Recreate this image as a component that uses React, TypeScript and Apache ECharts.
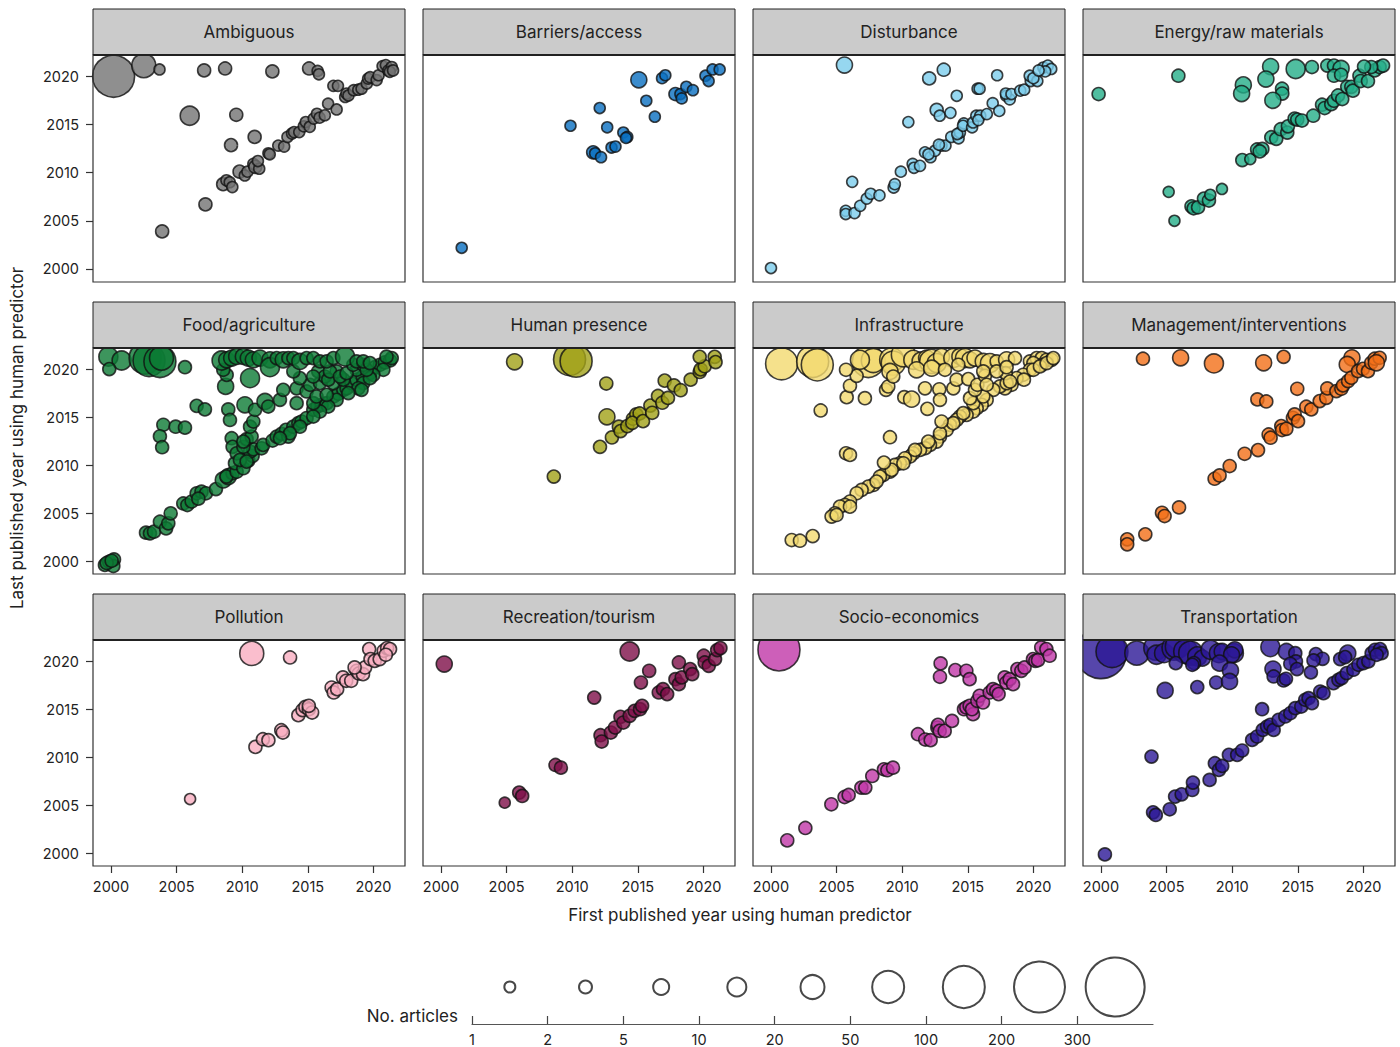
import React, { useEffect, useRef } from "react";
import * as echarts from "echarts";

// Each point: [first published year, last published year, number of articles]
type Pt = [number, number, number];

const ambiguous: Pt[] = [
  [2000.2, 2020.0, 150], [2002.5, 2021.1, 30], [2003.7, 2020.7, 1], [2007.1, 2020.6, 3], [2008.7, 2020.8, 3],
  [2012.3, 2020.5, 3], [2015.1, 2020.8, 2], [2015.75, 2020.55, 1], [2015.85, 2020.2, 1], [2006.0, 2015.9, 10],
  [2009.55, 2016.0, 2], [2009.15, 2012.85, 2], [2010.95, 2013.7, 2], [2007.2, 2006.7, 2], [2003.9, 2003.9, 2],
  [2008.55, 2008.8, 2], [2008.8, 2009.2, 1], [2009.05, 2009.0, 1], [2009.25, 2008.5, 1], [2009.8, 2010.1, 2],
  [2010.2, 2009.7, 1], [2010.4, 2010.1, 1], [2010.85, 2010.9, 1], [2011.0, 2010.6, 2], [2011.3, 2010.4, 1],
  [2011.2, 2011.2, 1], [2012.0, 2012.0, 1], [2012.1, 2011.9, 1], [2012.75, 2012.8, 1], [2013.2, 2012.7, 1],
  [2013.45, 2013.7, 1], [2013.8, 2014.05, 1], [2013.95, 2014.2, 1], [2014.35, 2014.2, 1], [2014.7, 2014.8, 1],
  [2014.85, 2015.25, 1], [2015.15, 2014.75, 1], [2015.45, 2015.6, 1], [2015.7, 2016.1, 1], [2015.9, 2015.7, 1],
  [2016.3, 2015.95, 1], [2016.55, 2017.15, 1], [2017.2, 2016.55, 1], [2016.95, 2019.0, 1], [2017.3, 2019.0, 1],
  [2017.85, 2017.85, 1], [2017.95, 2018.2, 1], [2018.1, 2018.0, 1], [2018.5, 2018.55, 1], [2018.85, 2018.6, 1],
  [2019.1, 2018.7, 1], [2019.5, 2019.25, 1], [2019.6, 2019.75, 1], [2019.75, 2019.9, 1], [2020.25, 2019.6, 1],
  [2020.4, 2020.1, 1], [2020.7, 2021.05, 1], [2020.95, 2021.15, 1], [2021.15, 2020.6, 1], [2021.4, 2020.95, 1],
  [2021.25, 2020.45, 1], [2021.5, 2020.6, 1],
];

const barriers: Pt[] = [
  [2001.58, 2002.2, 1], [2009.87, 2014.86, 1], [2012.1, 2016.7, 1], [2012.67, 2014.7, 1], [2011.6, 2012.1, 2],
  [2011.75, 2012.0, 1], [2012.2, 2011.6, 1], [2013.0, 2012.6, 1], [2013.3, 2012.7, 1], [2013.9, 2014.16, 1],
  [2014.2, 2013.7, 1], [2014.1, 2013.6, 1], [2015.08, 2019.63, 5], [2015.65, 2017.45, 1], [2016.3, 2015.8, 1],
  [2016.85, 2019.8, 1], [2017.1, 2020.1, 1], [2017.87, 2018.15, 2], [2018.25, 2018.15, 1], [2018.35, 2017.7, 1],
  [2018.7, 2018.9, 1], [2019.2, 2018.55, 1], [2020.16, 2020.05, 1], [2020.4, 2019.5, 1], [2020.7, 2020.7, 1],
  [2021.24, 2020.7, 1],
];

const disturbance: Pt[] = [
  [2000.0, 2000.1, 1], [2005.6, 2021.16, 5], [2012.06, 2019.77, 3], [2013.17, 2020.67, 3], [2017.24, 2020.1, 1],
  [2015.75, 2018.7, 1], [2015.9, 2018.7, 1], [2014.16, 2017.97, 1], [2012.63, 2016.5, 3], [2012.86, 2015.9, 1],
  [2013.68, 2016.2, 1], [2010.47, 2015.24, 1], [2006.19, 2009.04, 1],
  [2005.7, 2006.03, 1], [2005.7, 2005.7, 1], [2006.37, 2005.8, 1], [2006.8, 2006.55, 1], [2007.3, 2007.3, 1],
  [2007.6, 2007.8, 1], [2008.27, 2007.64, 1], [2009.35, 2008.45, 1], [2009.44, 2008.8, 1], [2009.9, 2010.1, 1],
  [2010.8, 2010.9, 1], [2010.9, 2010.5, 1], [2011.36, 2010.7, 1], [2011.74, 2012.1, 1], [2012.16, 2011.6, 1],
  [2012.5, 2012.26, 1], [2012.0, 2011.9, 1], [2013.0, 2012.8, 1], [2013.3, 2012.8, 1], [2012.8, 2012.9, 1],
  [2013.74, 2013.7, 1], [2014.3, 2013.56, 1], [2014.4, 2014.16, 1], [2014.2, 2014.0, 1], [2014.7, 2015.1, 1],
  [2014.64, 2014.86, 1], [2015.33, 2014.7, 1], [2015.4, 2015.2, 1], [2015.65, 2015.9, 1], [2015.95, 2015.9, 1],
  [2015.8, 2015.45, 1], [2016.45, 2016.07, 1], [2016.9, 2017.2, 1], [2017.4, 2016.4, 1], [2017.93, 2017.97, 1],
  [2018.2, 2017.6, 1], [2017.9, 2018.2, 1], [2018.33, 2018.15, 1], [2019.0, 2018.5, 1], [2019.3, 2018.6, 1],
  [2019.8, 2019.5, 1], [2019.72, 2020.05, 1], [2020.3, 2019.5, 1], [2020.0, 2019.8, 1], [2020.76, 2020.9, 1],
  [2021.1, 2021.1, 1], [2021.36, 2020.75, 1], [2020.9, 2020.5, 1], [2020.4, 2020.6, 1],
];

const energy: Pt[] = [
  [1999.82, 2018.15, 2], [2005.9, 2020.05, 3], [2005.16, 2008.0, 1], [2005.6, 2005.0, 1],
  [2006.9, 2006.5, 2], [2007.06, 2006.3, 2], [2007.4, 2006.4, 2], [2007.85, 2007.3, 2], [2008.23, 2007.1, 2],
  [2008.33, 2007.7, 1], [2009.22, 2008.3, 1], [2010.77, 2011.3, 2], [2011.38, 2011.4, 1], [2011.9, 2012.4, 2],
  [2012.3, 2012.46, 2], [2012.1, 2012.2, 2], [2012.98, 2013.67, 2], [2013.36, 2013.5, 2], [2013.7, 2014.5, 2],
  [2014.2, 2014.15, 2], [2014.25, 2014.8, 2], [2014.76, 2015.6, 3], [2014.96, 2015.5, 3], [2015.32, 2015.4, 3],
  [2016.18, 2015.9, 2], [2016.85, 2017.04, 2], [2017.05, 2016.7, 2], [2017.55, 2017.1, 2], [2017.76, 2017.45, 2],
  [2018.07, 2018.0, 2], [2018.39, 2017.63, 2], [2018.77, 2018.9, 3], [2019.08, 2018.9, 3], [2019.2, 2018.5, 2],
  [2019.7, 2020.05, 2], [2019.8, 2019.5, 2], [2020.35, 2019.5, 2], [2020.86, 2020.6, 2], [2021.24, 2020.95, 2],
  [2021.5, 2021.1, 2], [2020.6, 2020.95, 2],
  [2012.93, 2021.0, 5], [2012.57, 2019.7, 5], [2010.85, 2019.1, 5], [2010.72, 2018.2, 5], [2013.8, 2018.7, 2],
  [2013.82, 2018.2, 2], [2013.1, 2017.5, 5], [2014.84, 2020.75, 10], [2016.08, 2020.95, 2], [2017.25, 2021.1, 2],
  [2017.76, 2021.1, 2], [2018.3, 2020.8, 5], [2017.76, 2020.05, 2], [2018.3, 2020.15, 2], [2020.05, 2021.0, 2],
];

const food: Pt[] = [
  [1999.54, 1999.6, 3], [1999.87, 1999.93, 3], [2000.23, 2000.17, 3], [2000.18, 1999.48, 3], [1999.67, 1999.8, 3],
  [2000.05, 2000.03, 3], [2002.67, 2002.96, 3], [2002.97, 2002.89, 3], [2003.28, 2003.06, 3], [2003.73, 2004.1, 3],
  [2004.2, 2003.4, 3], [2004.37, 2003.93, 3], [2004.55, 2004.97, 3], [2005.51, 2006.0, 3], [2005.82, 2005.84, 3],
  [2006.15, 2006.2, 3], [2006.53, 2007.06, 3], [2006.9, 2007.23, 3], [2007.24, 2007.06, 3], [2006.66, 2006.5, 3],
  [2008.0, 2007.5, 3], [2008.56, 2008.45, 5], [2008.94, 2008.8, 5], [2009.27, 2009.15, 3], [2008.8, 2008.8, 3],
  [2009.58, 2009.3, 3], [2009.45, 2010.2, 3], [2010.09, 2009.67, 3], [2010.47, 2010.47, 3], [2010.8, 2010.96, 3],
  [2010.6, 2011.4, 3], [2010.85, 2011.65, 3], [2011.48, 2011.75, 3], [2011.6, 2012.1, 3],
  [2012.32, 2012.56, 3], [2012.63, 2012.97, 3], [2013.0, 2013.25, 3], [2013.34, 2013.67, 3], [2013.52, 2012.97, 3],
  [2013.9, 2014.0, 3], [2014.28, 2014.37, 3], [2014.53, 2014.54, 3], [2014.91, 2014.9, 3], [2015.42, 2015.76, 3],
  [2015.73, 2016.1, 3], [2016.06, 2016.28, 3], [2016.44, 2016.45, 3], [2016.95, 2017.15, 3], [2017.33, 2017.43, 3],
  [2017.71, 2017.84, 3], [2017.96, 2018.0, 3], [2018.34, 2018.54, 3], [2018.72, 2018.9, 3], [2019.18, 2019.23, 3],
  [2019.74, 2019.58, 3], [2020.12, 2020.2, 3], [2020.5, 2020.45, 3], [2020.88, 2020.7, 3], [2021.27, 2020.9, 3],
  [2020.76, 2019.93, 3], [2020.0, 2019.4, 3], [2019.23, 2018.54, 3], [2018.85, 2018.0, 3], [2018.09, 2017.5, 3],
  [2017.2, 2016.8, 3], [2016.56, 2016.1, 3], [2015.93, 2015.58, 3], [2015.42, 2015.06, 3], [2014.4, 2014.0, 3],
  [2013.64, 2013.32, 3], [2012.88, 2012.8, 3], [2021.4, 2021.15, 3], [2021.0, 2021.3, 3],
  [2006.53, 2016.17, 3], [2007.16, 2015.8, 3], [2003.99, 2014.2, 3], [2004.93, 2014.0, 3], [2005.64, 2013.9, 3],
  [2003.73, 2013.0, 3], [2003.9, 2011.86, 3], [2008.94, 2015.8, 3], [2009.07, 2014.7, 3], [2009.2, 2012.8, 3],
  [2009.27, 2011.9, 3], [2009.58, 2011.23, 3], [2010.09, 2011.9, 3], [2010.34, 2012.7, 3], [2010.72, 2012.97, 3],
  [2010.6, 2014.0, 3], [2010.85, 2014.54, 3], [2010.09, 2012.45, 3], [2009.83, 2010.54, 3], [2010.34, 2010.36, 3],
  [2010.21, 2016.28, 5], [2010.98, 2015.76, 3], [2011.74, 2016.63, 5], [2011.99, 2016.1, 3], [2012.88, 2016.8, 3],
  [2013.13, 2017.84, 3], [2014.15, 2016.45, 3], [2014.15, 2018.0, 3], [2014.91, 2017.67, 3], [2015.42, 2016.45, 3],
  [2015.67, 2017.15, 3], [2015.17, 2018.37, 3], [2016.44, 2017.32, 3], [2016.95, 2018.54, 3], [2017.71, 2018.9, 3],
  [2015.93, 2018.54, 3], [2017.2, 2019.76, 3], [2018.72, 2019.93, 3], [2019.74, 2019.06, 3], [2019.1, 2017.84, 3],
  [2008.74, 2018.2, 5], [2010.6, 2019.06, 10], [2008.82, 2019.4, 3], [2008.56, 2019.93, 3],
  [2015.8, 2019.76, 3], [2016.3, 2019.23, 3], [2016.56, 2018.9, 3], [2014.4, 2019.06, 3], [2015.42, 2019.23, 3],
  [2013.9, 2019.76, 3], [2016.69, 2019.76, 3], [2017.45, 2019.23, 3], [2017.96, 2019.58, 3], [2018.47, 2020.45, 3],
  [2019.23, 2020.45, 3], [2019.49, 2019.93, 3],
  [1999.8, 2021.3, 10], [2000.81, 2020.9, 10], [1999.87, 2020.0, 3], [2002.6, 2021.15, 50], [2002.9, 2020.9, 70],
  [2003.73, 2020.8, 70], [2003.85, 2021.15, 30], [2005.64, 2020.2, 3],
  [2008.43, 2020.9, 10], [2008.82, 2020.97, 5], [2009.2, 2021.15, 5], [2009.58, 2021.32, 5], [2010.09, 2021.32, 5],
  [2010.47, 2021.15, 5], [2010.85, 2020.97, 5], [2011.36, 2021.15, 5], [2012.12, 2020.97, 5], [2012.12, 2020.2, 10],
  [2012.63, 2021.15, 3], [2013.13, 2020.97, 5], [2013.52, 2021.15, 3], [2013.9, 2021.15, 3], [2014.4, 2020.8, 5],
  [2014.91, 2021.15, 3], [2015.42, 2021.15, 3], [2015.93, 2020.8, 3], [2016.44, 2020.8, 3], [2016.95, 2021.15, 3],
  [2017.84, 2021.32, 10], [2018.72, 2020.8, 3], [2019.23, 2020.8, 3], [2019.74, 2020.63, 3],
];

const humanPresence: Pt[] = [
  [2005.61, 2020.76, 5], [2009.8, 2021.0, 70], [2010.3, 2020.83, 50], [2012.6, 2018.5, 3], [2012.65, 2015.03, 5],
  [2008.6, 2008.8, 2], [2012.12, 2011.9, 2], [2013.03, 2012.88, 3], [2013.56, 2014.0, 3], [2013.69, 2013.54, 3],
  [2014.2, 2014.06, 3], [2014.63, 2014.83, 3], [2014.89, 2015.28, 3], [2015.14, 2015.38, 3], [2014.58, 2014.4, 3],
  [2015.4, 2014.58, 3], [2015.96, 2016.2, 3], [2016.1, 2015.45, 3], [2016.54, 2017.2, 3], [2016.87, 2016.5, 3],
  [2017.3, 2017.0, 3], [2017.05, 2018.8, 3], [2017.76, 2018.3, 3], [2018.27, 2017.8, 3], [2019.03, 2018.9, 3],
  [2019.72, 2019.7, 3], [2019.79, 2019.97, 3], [2020.1, 2020.3, 3], [2019.72, 2021.28, 3], [2020.86, 2021.28, 3],
  [2020.93, 2020.73, 3],
];

const infrastructure: Pt[] = [
  [2000.81, 2020.56, 70], [2003.18, 2020.8, 70], [2003.53, 2020.45, 50], [2007.42, 2020.8, 70], [2007.8, 2020.9, 30],
  [2006.78, 2020.97, 10], [2009.2, 2020.97, 20], [2009.32, 2020.63, 20], [2010.09, 2021.5, 20], [2010.85, 2020.97, 10],
  [2011.48, 2020.8, 10], [2011.86, 2021.15, 5], [2012.25, 2020.8, 20], [2012.63, 2020.63, 10], [2013.0, 2021.32, 5],
  [2013.9, 2021.15, 10], [2014.4, 2021.32, 5], [2014.79, 2021.15, 10], [2015.17, 2020.97, 5], [2015.55, 2021.15, 5],
  [2016.18, 2020.8, 5], [2016.69, 2020.63, 10], [2017.2, 2020.8, 3], [2017.96, 2020.97, 5], [2018.6, 2021.15, 3],
  [2019.74, 2020.8, 3], [2020.25, 2021.15, 3], [2020.63, 2021.15, 3], [2021.01, 2020.97, 3], [2021.39, 2020.97, 3],
  [2020.63, 2020.45, 3], [2020.0, 2020.63, 3], [2019.74, 2019.93, 3], [2019.23, 2019.41, 3], [2018.72, 2019.06, 3],
  [2018.34, 2018.37, 3], [2017.84, 2018.0, 3], [2017.45, 2018.2, 3], [2016.95, 2017.84, 3], [2016.44, 2016.8, 3],
  [2016.06, 2016.28, 3], [2015.68, 2015.93, 3], [2015.42, 2015.58, 3], [2014.91, 2015.23, 3], [2014.4, 2015.06, 3],
  [2014.15, 2014.71, 3], [2013.64, 2014.19, 3], [2013.39, 2013.67, 3], [2012.88, 2012.97, 3], [2012.63, 2012.45, 3],
  [2012.12, 2012.1, 3], [2011.74, 2011.76, 3], [2011.36, 2011.58, 3], [2010.85, 2011.23, 3], [2010.6, 2010.89, 3],
  [2010.21, 2010.71, 3], [2009.83, 2010.19, 3], [2009.45, 2010.02, 3], [2009.07, 2009.32, 3], [2008.56, 2008.97, 3],
  [2008.31, 2008.8, 3], [2007.8, 2007.93, 3], [2007.42, 2007.76, 3], [2006.91, 2007.41, 3], [2006.53, 2007.06, 3],
  [2006.02, 2006.2, 3], [2005.64, 2005.84, 3], [2005.26, 2005.67, 3], [2004.88, 2004.97, 3], [2004.62, 2004.63, 3],
  [2005.0, 2004.8, 3], [2006.02, 2005.67, 3], [2008.05, 2008.28, 3], [2009.2, 2009.5, 3], [2010.09, 2010.19, 3],
  [2010.98, 2011.58, 3], [2011.99, 2012.45, 3], [2012.88, 2013.32, 3], [2013.9, 2014.37, 3], [2014.66, 2015.41, 3],
  [2015.42, 2016.45, 3], [2016.18, 2017.15, 3], [2017.96, 2018.54, 3], [2020.0, 2019.93, 3], [2020.5, 2020.28, 3],
  [2021.01, 2020.63, 3], [2021.52, 2021.15, 3],
  [2001.58, 2002.19, 2], [2002.21, 2002.12, 2], [2003.18, 2002.6, 2], [2005.72, 2011.23, 3], [2006.02, 2011.06, 2],
  [2008.61, 2010.26, 2], [2009.07, 2012.9, 2], [2003.79, 2015.69, 3], [2005.77, 2017.08, 2], [2007.16, 2016.97, 2],
  [2006.02, 2018.26, 3], [2006.53, 2019.3, 2], [2005.72, 2019.93, 3], [2008.77, 2017.84, 3], [2008.94, 2018.19, 3],
  [2010.16, 2017.08, 3], [2010.72, 2016.87, 5], [2011.74, 2018.0, 3], [2011.92, 2015.86, 3], [2012.83, 2017.9, 3],
  [2012.88, 2016.8, 2], [2013.0, 2014.54, 2], [2013.9, 2018.0, 3], [2014.15, 2018.9, 3], [2015.17, 2016.97, 3],
  [2015.55, 2017.84, 3], [2015.04, 2018.96, 3], [2015.73, 2018.37, 3], [2016.31, 2019.3, 3], [2016.44, 2018.37, 3],
  [2017.89, 2019.58, 3], [2018.22, 2018.71, 3], [2019.28, 2018.9, 3],
  [2009.07, 2019.76, 5], [2009.32, 2019.23, 3], [2011.1, 2019.93, 5], [2012.25, 2020.1, 5], [2013.26, 2019.93, 3],
  [2014.28, 2020.45, 3], [2016.18, 2019.76, 3], [2017.2, 2019.76, 3], [2017.96, 2020.2, 3],
];

const management: Pt[] = [
  [2003.2, 2021.08, 2], [2006.07, 2021.18, 5], [2008.61, 2020.59, 10], [2012.4, 2020.66, 5], [2013.92, 2021.28, 3],
  [2019.13, 2021.18, 5], [2018.77, 2020.49, 5], [2014.96, 2017.95, 3], [2011.92, 2016.84, 3], [2012.6, 2016.63, 3],
  [2002.0, 2002.26, 2], [2002.0, 2001.74, 3], [2003.38, 2002.78, 2], [2004.65, 2005.03, 3], [2004.85, 2004.69, 3],
  [2005.95, 2005.59, 2], [2008.66, 2008.58, 3], [2009.04, 2008.92, 3], [2009.81, 2009.9, 3], [2010.95, 2011.18, 3],
  [2011.97, 2011.56, 3], [2012.78, 2013.19, 3], [2012.93, 2012.85, 3], [2013.74, 2014.06, 3], [2013.8, 2013.65, 3],
  [2014.13, 2013.78, 3], [2014.63, 2014.93, 3], [2014.76, 2015.28, 3], [2015.02, 2014.58, 3], [2015.65, 2016.08, 3],
  [2016.03, 2015.8, 3], [2016.67, 2016.67, 3], [2017.17, 2017.01, 3], [2017.25, 2017.99, 3], [2017.94, 2017.71, 3],
  [2018.32, 2017.95, 3], [2018.45, 2018.3, 3], [2018.83, 2018.75, 3], [2019.08, 2019.1, 3], [2019.59, 2019.79, 3],
  [2019.97, 2020.03, 3], [2020.35, 2019.79, 3], [2020.6, 2020.66, 3], [2020.86, 2021.08, 3], [2021.24, 2021.18, 3],
  [2020.99, 2020.66, 5],
];

const pollution: Pt[] = [
  [2010.73, 2020.8, 20], [2013.65, 2020.38, 2], [2006.03, 2005.63, 1], [2011.01, 2011.06, 2], [2011.58, 2011.86, 2],
  [2012.0, 2011.76, 2], [2012.98, 2012.8, 2], [2013.1, 2012.56, 2], [2014.28, 2014.37, 2], [2014.6, 2014.9, 2],
  [2014.82, 2015.23, 2], [2015.08, 2014.99, 2], [2015.33, 2014.64, 2], [2015.08, 2015.34, 2], [2016.82, 2017.25, 2],
  [2016.98, 2016.73, 2], [2017.24, 2017.08, 2], [2017.68, 2018.3, 2], [2017.93, 2017.95, 2], [2018.31, 2017.95, 2],
  [2018.73, 2018.99, 2], [2018.89, 2018.71, 2], [2019.21, 2018.64, 2], [2019.37, 2019.34, 2], [2019.68, 2021.25, 2],
  [2019.78, 2020.21, 2], [2020.1, 2020.03, 2], [2020.48, 2020.21, 2], [2020.79, 2021.08, 2], [2021.05, 2021.36, 2],
  [2021.27, 2021.25, 2], [2020.95, 2020.66, 2], [2018.57, 2019.34, 2],
];

const recreation: Pt[] = [
  [2000.25, 2019.69, 5], [2014.38, 2021.0, 10], [2004.86, 2005.25, 1], [2005.96, 2006.3, 2], [2006.19, 2005.95, 2],
  [2008.73, 2009.18, 2], [2009.14, 2008.9, 2], [2011.68, 2016.2, 3], [2015.24, 2017.77, 2], [2015.87, 2018.99, 2],
  [2018.13, 2019.86, 2], [2012.16, 2012.28, 2], [2012.25, 2011.62, 2], [2012.95, 2012.56, 2], [2013.27, 2013.08, 2],
  [2013.68, 2014.19, 2], [2013.9, 2013.6, 2], [2014.38, 2014.3, 2], [2014.76, 2014.82, 2], [2015.17, 2014.99, 2],
  [2015.33, 2015.34, 2], [2016.6, 2016.73, 2], [2016.92, 2017.08, 2], [2017.24, 2016.56, 2], [2017.87, 2018.12, 2],
  [2018.13, 2017.6, 2], [2018.35, 2018.3, 2], [2018.99, 2019.17, 2], [2019.15, 2018.64, 2], [2020.03, 2020.56, 2],
  [2020.1, 2019.86, 2], [2020.41, 2019.51, 2], [2020.89, 2020.21, 2], [2021.05, 2021.15, 2], [2021.3, 2021.36, 2],
];

const socioEconomics: Pt[] = [
  [2000.61, 2021.18, 150], [2001.24, 2001.32, 2], [2002.62, 2002.61, 2], [2004.6, 2005.08, 2], [2005.61, 2005.84, 2],
  [2005.92, 2006.05, 2], [2006.89, 2006.82, 2], [2007.19, 2006.82, 2], [2007.72, 2008.03, 2], [2008.61, 2008.73, 2],
  [2008.87, 2008.63, 2], [2009.3, 2008.9, 2], [2011.2, 2012.38, 2], [2011.76, 2011.83, 2], [2012.17, 2011.76, 2],
  [2012.68, 2013.08, 3], [2012.73, 2013.36, 3], [2012.86, 2012.73, 3], [2013.24, 2012.73, 3], [2013.8, 2013.77, 2],
  [2012.93, 2019.76, 3], [2012.88, 2018.37, 3], [2014.05, 2019.06, 3], [2014.89, 2018.99, 2], [2015.14, 2018.12, 2],
  [2014.71, 2014.99, 3], [2014.89, 2015.17, 3], [2015.14, 2015.34, 3], [2015.4, 2014.47, 3], [2015.32, 2014.99, 3],
  [2015.73, 2015.86, 3], [2015.9, 2016.38, 3], [2016.16, 2015.69, 3], [2016.67, 2016.73, 3], [2016.92, 2017.08, 3],
  [2017.17, 2016.9, 3], [2017.35, 2016.56, 3], [2017.81, 2018.3, 3], [2017.94, 2017.77, 3], [2018.19, 2018.12, 3],
  [2018.45, 2017.6, 3], [2018.78, 2019.17, 3], [2019.08, 2018.99, 3], [2019.33, 2019.34, 3], [2019.97, 2020.21, 3],
  [2020.15, 2020.03, 3], [2020.35, 2020.1, 3], [2020.6, 2021.43, 3], [2020.99, 2021.25, 3], [2021.24, 2020.56, 3],
];

const transportation: Pt[] = [
  [2000.0, 2020.83, 250], [2000.84, 2021.0, 70], [2002.73, 2020.83, 20], [2004.18, 2021.36, 20], [2004.23, 2020.66, 10],
  [2004.81, 2020.83, 10], [2005.57, 2021.36, 20], [2005.82, 2021.53, 20], [2006.46, 2021.0, 20], [2006.84, 2020.83, 20],
  [2007.34, 2020.49, 10], [2007.72, 2020.31, 5], [2008.35, 2021.18, 10], [2008.99, 2020.83, 10], [2009.24, 2021.0, 5],
  [2010.13, 2020.83, 10], [2010.2, 2021.18, 5], [2009.95, 2020.66, 5],
  [2005.7, 2019.79, 3], [2007.09, 2019.79, 3], [2006.96, 2019.62, 3], [2009.04, 2019.79, 5], [2009.87, 2019.03, 5],
  [2004.89, 2016.94, 5], [2007.34, 2017.29, 3], [2008.78, 2017.77, 3], [2009.8, 2017.88, 5],
  [2012.91, 2021.46, 10], [2013.11, 2019.17, 5], [2013.16, 2018.4, 3], [2013.92, 2017.98, 3], [2014.1, 2018.16, 3],
  [2014.13, 2021.0, 5], [2014.81, 2020.83, 3], [2014.86, 2019.97, 3], [2014.43, 2019.72, 3], [2014.94, 2019.17, 3],
  [2016.38, 2020.73, 3], [2016.89, 2020.24, 3], [2016.2, 2020.07, 3], [2016.0, 2018.82, 3], [2018.23, 2020.21, 3],
  [2018.81, 2020.83, 5], [2018.61, 2020.42, 3], [2012.28, 2014.99, 3], [2003.85, 2010.05, 3], [2000.3, 1999.86, 2],
  [2003.97, 2004.24, 3], [2004.18, 2003.97, 3], [2005.24, 2004.56, 3], [2005.65, 2005.88, 3], [2006.15, 2006.12, 3],
  [2006.96, 2006.57, 3], [2007.01, 2007.34, 3], [2008.28, 2007.62, 3], [2008.68, 2009.36, 3], [2008.99, 2008.66, 3],
  [2009.24, 2009.08, 3], [2009.75, 2010.23, 3], [2010.38, 2010.23, 3], [2010.76, 2010.68, 3], [2011.52, 2011.79, 3],
  [2011.9, 2012.14, 3], [2012.33, 2012.83, 3], [2012.66, 2013.18, 3], [2012.91, 2013.36, 3], [2013.16, 2012.83, 3],
  [2013.54, 2013.88, 3], [2014.05, 2014.23, 3], [2014.43, 2014.57, 3], [2014.81, 2015.1, 3], [2015.27, 2015.27, 3],
  [2015.57, 2015.97, 3], [2015.82, 2016.14, 3], [2016.08, 2015.62, 3], [2016.71, 2016.83, 3], [2016.96, 2016.66, 3],
  [2017.72, 2017.7, 3], [2018.1, 2018.05, 3], [2018.35, 2018.23, 3], [2018.73, 2018.75, 3], [2019.24, 2019.1, 3],
  [2019.62, 2019.62, 3], [2020.0, 2019.79, 3], [2020.38, 2019.97, 3], [2020.63, 2020.83, 3], [2020.89, 2021.18, 3],
  [2021.27, 2021.25, 3], [2021.39, 2020.83, 3], [2021.01, 2020.66, 3],
];

const panelTitles = [
  "Ambiguous", "Barriers/access", "Disturbance", "Energy/raw materials",
  "Food/agriculture", "Human presence", "Infrastructure", "Management/interventions",
  "Pollution", "Recreation/tourism", "Socio-economics", "Transportation",
];
const panelColors = [
  "#737373", "#0a6fc0", "#7ccdec", "#24ae88",
  "#0c7a35", "#a1a118", "#f3da6f", "#f26f18",
  "#f9aec1", "#7e0f48", "#c137a8", "#2c1896",
];
const panelData: Pt[][] = [
  ambiguous, barriers, disturbance, energy,
  food, humanPresence, infrastructure, management,
  pollution, recreation, socioEconomics, transportation,
];

const yearTicks = [2000, 2005, 2010, 2015, 2020];
// Size classes for the number of articles
const sizeBreaks = [1, 2, 5, 10, 20, 50, 100, 200, 300];
const sizeLabels = ["1", "2", "5", "10", "20", "50", "100", "200", "300"];
const sizeDiameters = [11, 13, 16, 19, 24, 32, 42, 51, 59];

const FONT = "Inter, 'Noto Sans', sans-serif";
const colLeft = [93, 423, 753, 1083];
const rowTop = [55, 348, 640];
const rowHeight = [227, 226, 226];
const panelWidth = 312;
const headerHeight = 46;
const xMin = 1998.63, xMax = 2022.41;
const yMin = 1998.65, yMax = 2022.2;

function diameterFor(n: number): number {
  let k = 0;
  for (let i = 0; i < sizeBreaks.length; i++) if (n >= sizeBreaks[i]) k = i;
  return sizeDiameters[k];
}

const yearText = (v: number) => String(Math.round(v));

function buildOption() {
  const grid: any[] = [];
  const xAxis: any[] = [];
  const yAxis: any[] = [];
  const series: any[] = [];
  const graphic: any[] = [];

  panelTitles.forEach((title, i) => {
    const r = Math.floor(i / 4);
    const c = i % 4;
    const left = colLeft[c];
    const top = rowTop[r];
    const h = rowHeight[r];
    grid.push({ left, top, width: panelWidth, height: h, show: false });
    xAxis.push({
      type: "value", gridIndex: i, min: xMin, max: xMax,
      axisLine: { show: false }, splitLine: { show: false },
      axisTick: { show: r === 2, customValues: yearTicks, length: 7, lineStyle: { color: "#333", width: 1.2 } },
      axisLabel: {
        show: r === 2, customValues: yearTicks, fontSize: 14.5, color: "#222", fontFamily: FONT, margin: 13,
        formatter: yearText,
      },
    });
    yAxis.push({
      type: "value", gridIndex: i, min: yMin, max: yMax,
      axisLine: { show: false }, splitLine: { show: false },
      axisTick: { show: c === 0, customValues: yearTicks, length: 7, lineStyle: { color: "#333", width: 1.2 } },
      axisLabel: {
        show: c === 0, customValues: yearTicks, fontSize: 14.5, color: "#222", fontFamily: FONT, margin: 14,
        formatter: yearText,
      },
    });
    series.push({
      type: "scatter", xAxisIndex: i, yAxisIndex: i, clip: false,
      data: panelData[i],
      symbol: "circle",
      symbolSize: (v: number[]) => diameterFor(v[2]),
      itemStyle: { color: panelColors[i], opacity: 0.8, borderColor: "#111", borderWidth: 1.6 },
      emphasis: { disabled: true },
    });

    // facet strip
    graphic.push({
      type: "rect", z: 100,
      shape: { x: left, y: top - headerHeight, width: panelWidth, height: headerHeight },
      style: { fill: "#cbcbcb", stroke: "#222", lineWidth: 1 },
    });
    graphic.push({
      type: "line", z: 101,
      shape: { x1: left, y1: top, x2: left + panelWidth, y2: top },
      style: { stroke: "#111", lineWidth: 2 },
    });
    graphic.push({
      type: "text", z: 102, x: left + panelWidth / 2, y: top - headerHeight / 2,
      style: { text: title, align: "center", verticalAlign: "middle", fontSize: 17, fontFamily: FONT, fill: "#222" },
    });
    // panel frame
    graphic.push({
      type: "rect", z: 101,
      shape: { x: left, y: top, width: panelWidth, height: h },
      style: { fill: "none", stroke: "#333", lineWidth: 1.2 },
    });
  });

  // white gaps between columns hide overflowing bubbles
  for (let c = 0; c < 3; c++) {
    graphic.push({
      type: "rect", z: 90,
      shape: { x: colLeft[c] + panelWidth + 0.6, y: 0, width: colLeft[c + 1] - colLeft[c] - panelWidth - 1.2, height: 870 },
      style: { fill: "#fff" },
    });
  }

  // shared axis titles
  graphic.push({
    type: "text", z: 102, x: 17, y: 438, rotation: Math.PI / 2,
    style: { text: "Last published year using human predictor", align: "center", verticalAlign: "middle", fontSize: 17, fontFamily: FONT, fill: "#222" },
  });
  graphic.push({
    type: "text", z: 102, x: 740, y: 915,
    style: { text: "First published year using human predictor", align: "center", verticalAlign: "middle", fontSize: 17, fontFamily: FONT, fill: "#222" },
  });
  graphic.push({
    type: "text", z: 102, x: 458, y: 1016,
    style: { text: "No. articles", align: "right", verticalAlign: "middle", fontSize: 17, fontFamily: FONT, fill: "#222" },
  });

  // size key
  const keyIdx = panelTitles.length;
  const keyTicks = sizeLabels.map((_, i) => i);
  grid.push({ left: 472, top: 950, width: 681, height: 74, show: false });
  xAxis.push({
    type: "value", gridIndex: keyIdx, min: 0, max: sizeLabels.length,
    axisLine: { show: true, lineStyle: { color: "#555", width: 1.2 } },
    splitLine: { show: false },
    axisTick: { show: true, inside: true, length: 8, customValues: keyTicks, lineStyle: { color: "#444", width: 1.2 } },
    axisLabel: {
      customValues: keyTicks, fontSize: 14.5, color: "#222", fontFamily: FONT, margin: 8,
      formatter: (v: number) => sizeLabels[Math.round(v)] ?? "",
    },
  });
  yAxis.push({ type: "value", gridIndex: keyIdx, min: 0, max: 1, show: false });
  series.push({
    type: "scatter", xAxisIndex: keyIdx, yAxisIndex: keyIdx, clip: false,
    data: sizeBreaks.map((n, i) => [i + 0.5, 0.5, n]),
    symbol: "circle",
    symbolSize: (v: number[]) => diameterFor(v[2]),
    itemStyle: { color: "#fff", borderColor: "#1a1a1a", borderWidth: 2 },
    emphasis: { disabled: true },
  });

  return {
    animation: false,
    backgroundColor: "#fff",
    textStyle: { fontFamily: FONT },
    grid, xAxis, yAxis, series, graphic,
  };
}

export default function App() {
  const ref = useRef<HTMLDivElement>(null);
  useEffect(() => {
    const chart = echarts.init(ref.current!, null, { renderer: "svg" });
    chart.setOption(buildOption());
    return () => chart.dispose();
  }, []);
  return (
    <div
      ref={ref}
      style={{ position: "absolute", left: 0, top: 0, width: 1400, height: 1047, background: "#fff" }}
    />
  );
}
